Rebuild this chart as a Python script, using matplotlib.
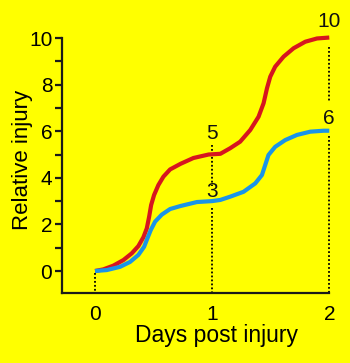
import numpy as np
import matplotlib.pyplot as plt

plt.rcParams['font.family'] = ['Liberation Sans', 'DejaVu Sans']

# curves (days, relative injury)
red_x = [0, 0.071, 0.156, 0.242, 0.314, 0.370, 0.413, 0.442, 0.462, 0.479, 0.504,
         0.541, 0.584, 0.641, 0.73, 0.84, 0.97, 1.07, 1.154, 1.239, 1.325, 1.396,
         1.439, 1.468, 1.496, 1.538, 1.610, 1.695, 1.795, 1.895, 2.0]
red_y = [0, 0.07, 0.23, 0.47, 0.76, 1.07, 1.45, 1.83, 2.33, 2.83, 3.26,
         3.69, 4.05, 4.36, 4.6, 4.85, 5.0, 5.03, 5.27, 5.55, 6.05, 6.62,
         7.20, 7.84, 8.34, 8.77, 9.20, 9.56, 9.84, 9.98, 10.02]
blue_x = [0, 0.100, 0.214, 0.299, 0.370, 0.419, 0.447, 0.476, 0.513, 0.570, 0.641,
          0.73, 0.87, 1.0, 1.07, 1.154, 1.268, 1.368, 1.425, 1.453, 1.481, 1.538,
          1.624, 1.724, 1.838, 1.951, 2.0]
blue_y = [0, 0.04, 0.18, 0.39, 0.69, 1.04, 1.40, 1.76, 2.12, 2.42, 2.66,
          2.79, 2.96, 3.0, 3.05, 3.19, 3.40, 3.76, 4.12, 4.55, 4.98, 5.33,
          5.62, 5.84, 5.98, 6.02, 6.02]

# value labels
lab_x = [1, 1, 2, 2]
lab_y = [5.9, 3.43, 10.69, 6.55]
lab_txt = ['5', '3', '10', '6']

# dotted guide segments (x, y from, y to)
guides = [(0, -0.1, -0.95), (1, 5.4, 3.65), (1, 2.7, -0.95),
          (2, 9.6, 7.25), (2, 5.8, -0.95)]

yellow = '#ffff00'
fig = plt.figure(figsize=(3.5, 3.63), dpi=100, facecolor=yellow)
ax = fig.add_axes([62/350, 70/363, 279/350, 278.3/363])
ax.set_facecolor(yellow)

for gx, y0, y1 in guides:
    ax.plot([gx, gx], [y0, y1], color='black', lw=1.3, linestyle=(0, (1, 1.2)))

ax.plot(red_x, red_y, color='#d6161f', lw=3, solid_capstyle='butt', solid_joinstyle='round')
ax.plot(blue_x, blue_y, color='#1a94e8', lw=3, solid_capstyle='butt', solid_joinstyle='round')

for x, y, t in zip(lab_x, lab_y, lab_txt):
    ax.text(x, y, t, ha='center', va='center', fontsize=15, color='#111111')

ax.set_xlim(-0.282, 2.1)
ax.set_ylim(-0.944, 11)
for s in ['top', 'right']:
    ax.spines[s].set_visible(False)
ax.spines['left'].set_bounds(-0.944, 10)
ax.spines['bottom'].set_bounds(-0.282, 2)
for s in ['left', 'bottom']:
    ax.spines[s].set_linewidth(1.6)
    ax.spines[s].set_color('#1a1a1a')

ax.set_yticks(np.arange(0, 11, 2))
ax.set_yticks(np.arange(1, 10, 2), minor=True)
ax.set_xticks([0, 1, 2])
ax.tick_params(axis='y', which='both', length=5, width=1.6, color='#1a1a1a',
               labelsize=15, pad=2)
ax.tick_params(axis='x', length=0, labelsize=15, pad=8.5)
ax.set_xlabel('Days post injury', fontsize=16.5)
ax.set_ylabel('Relative injury', fontsize=16)
ax.xaxis.set_label_coords(0.552, -0.112)
ax.yaxis.set_label_coords(-0.104, 0.478)

fig.savefig('out.png', dpi=100, facecolor=yellow)
